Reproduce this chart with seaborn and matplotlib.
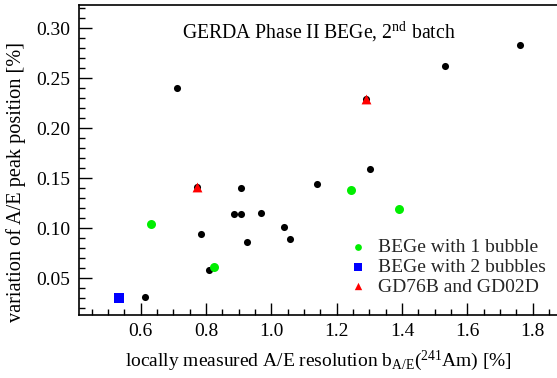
import matplotlib
matplotlib.use("Agg")
import matplotlib.pyplot as plt
import seaborn as sns
import pandas as pd
from matplotlib.ticker import MultipleLocator, FormatStrFormatter

# ---- data ----
black_x = [0.710, 1.530, 1.761, 0.907, 1.139, 1.302, 0.885, 0.907, 0.967, 0.784,
           1.040, 0.926, 1.056, 0.808, 0.612, 0.771, 1.291]
black_y = [0.240, 0.262, 0.283, 0.140, 0.144, 0.159, 0.114, 0.114, 0.115, 0.094,
           0.101, 0.086, 0.089, 0.058, 0.031, 0.141, 0.229]
green_x = [0.632, 0.823, 1.244, 1.390]
green_y = [0.104, 0.061, 0.138, 0.119]
blue_x = [0.534]
blue_y = [0.030]
red_x = [0.771, 1.291]
red_y = [0.141, 0.229]

legend_labels = ["BEGe with 1 bubble", "BEGe with 2 bubbles", "GD76B and GD02D"]
title_text = "GERDA Phase II BEGe, 2$^{\\rm nd}$ batch"
xlabel_text = "locally measured A/E resolution b$_{\\rm A/E}$($^{\\rm 241}$Am) [%]"
ylabel_text = "variation of A/E peak position [%]"

sns.set_theme(style="white")
plt.rcParams["font.family"] = ["Liberation Serif", "DejaVu Serif"]
plt.rcParams["mathtext.fontset"] = "custom"
plt.rcParams["mathtext.rm"] = "Liberation Serif"
plt.rcParams["mathtext.it"] = "Liberation Serif:italic"
plt.rcParams["mathtext.bf"] = "Liberation Serif:bold"

fig = plt.figure(figsize=(5.57, 3.78), dpi=100)
ax = fig.add_axes([78.7 / 557, 1 - 314.7 / 378, (558.1 - 78.7) / 557, (314.7 - 5) / 378])

df_black = pd.DataFrame({"x": black_x, "y": black_y})
df_green = pd.DataFrame({"x": green_x, "y": green_y})
df_blue = pd.DataFrame({"x": blue_x, "y": blue_y})
df_red = pd.DataFrame({"x": red_x, "y": red_y})

sns.scatterplot(data=df_black, x="x", y="y", ax=ax, color="black", s=26,
                linewidth=0, marker="o", zorder=3)
sns.scatterplot(data=df_green, x="x", y="y", ax=ax, color="#00ee00", s=42,
                linewidth=0, marker="o", zorder=4, label=legend_labels[0])
sns.scatterplot(data=df_blue, x="x", y="y", ax=ax, color="#0000ff", s=60,
                linewidth=0, marker="s", zorder=4, label=legend_labels[1])
sns.scatterplot(data=df_red, x="x", y="y", ax=ax, color="#ff0000", s=50,
                linewidth=0, marker="^", zorder=4, label=legend_labels[2])

ax.set_xlim(0.4102, 1.8776)
ax.set_ylim(0.0136, 0.3233)

ax.xaxis.set_major_locator(MultipleLocator(0.2))
ax.xaxis.set_minor_locator(MultipleLocator(0.05))
ax.yaxis.set_major_locator(MultipleLocator(0.05))
ax.yaxis.set_minor_locator(MultipleLocator(0.01))
ax.xaxis.set_major_formatter(FormatStrFormatter("%.1f"))
ax.yaxis.set_major_formatter(FormatStrFormatter("%.2f"))

ax.tick_params(axis="both", which="major", direction="in", length=9, width=1,
               color="black", labelsize=14, labelcolor="black", pad=6,
               bottom=True, left=True, top=False, right=False)
ax.tick_params(axis="both", which="minor", direction="in", length=4.5, width=1,
               color="black", bottom=True, left=True, top=False, right=False)
for lbl in ax.get_xticklabels() + ax.get_yticklabels():
    lbl.set_fontfamily(["Liberation Serif", "DejaVu Serif"])

for sp in ax.spines.values():
    sp.set_color("black")
    sp.set_linewidth(1.2)

ax.set_xlabel(xlabel_text, fontsize=14, color="black", labelpad=6)
ax.set_ylabel(ylabel_text, fontsize=14.6, color="black")
ax.yaxis.set_label_coords(-0.110, 0.43)

ax.text(0.5, 0.912, title_text, transform=ax.transAxes, ha="center", va="center",
        fontsize=14.2, color="black")

leg = ax.legend(loc="upper left", bbox_to_anchor=(0.5415, 0.27), frameon=False,
                fontsize=14, handletextpad=0.45, labelspacing=0.1,
                borderaxespad=0, handlelength=1.2, markerscale=0.75)

fig.savefig("out.png", dpi=100)
